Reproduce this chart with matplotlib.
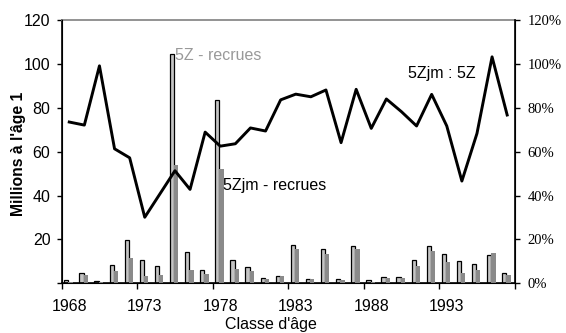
import numpy as np
import matplotlib
matplotlib.use('Agg')
import matplotlib.pyplot as plt
from matplotlib.ticker import FixedLocator, FuncFormatter

# Values
years = list(range(1968, 1998))
recrues_5z = [1.4, 4.9, 0.9, 8.2, 19.6, 10.8, 7.7, 104.5, 14.1, 5.9,
              83.5, 10.6, 7.6, 2.6, 3.2, 17.6, 2.0, 15.5, 2.0, 17.0,
              1.4, 3.0, 3.0, 10.6, 17.0, 13.5, 10.0, 9.0, 13.1, 4.9]
recrues_5zjm = [0.6, 3.8, 0.8, 5.5, 11.4, 3.2, 3.8, 53.9, 6.2, 4.4,
                52.1, 6.7, 5.5, 2.0, 3.2, 15.5, 2.0, 13.5, 1.4, 15.5,
                0.6, 2.6, 2.6, 7.9, 14.9, 9.6, 4.9, 6.1, 13.7, 3.8]
ratio_pct = [73.5, 72.1, 99.1, 61.3, 57.2, 30.1, 40.7, 51.3, 42.8, 68.9,
             62.5, 63.6, 70.8, 69.4, 83.6, 86.2, 85.0, 88.1, 64.1, 88.4,
             70.6, 84.0, 78.2, 71.7, 86.1, 71.7, 46.6, 68.3, 103.2, 76.7]
label_years = [1968, 1973, 1978, 1983, 1988, 1993]

plt.rcParams['font.family'] = ['Liberation Sans', 'DejaVu Sans']
FS = 11.5

fig = plt.figure(figsize=(5.66, 3.33), dpi=100)
ax = fig.add_axes([0.109, 0.1492, 0.8004, 0.7908])

x = np.array(years, dtype=float)
w = 0.28
ax.bar(x - 0.19, recrues_5z, width=w, color='#c4c4c4', edgecolor='black', linewidth=0.9, zorder=2)
ax.bar(x + 0.09, recrues_5zjm, width=w, color='#8a8a8a', linewidth=0, zorder=3)

ax.set_xlim(1967.5, 1997.5)
ax.set_ylim(0, 120)
ax.set_yticks(np.arange(0, 121, 20))
# no "0" on the left axis in the original
ax.yaxis.set_major_formatter(FuncFormatter(lambda v, p: '' if v == 0 else '%d' % v))
ax.tick_params(axis='y', direction='out', length=3.6, width=1, labelsize=FS, pad=4.5)

# labels on category centres, tick marks on category borders
ax.xaxis.set_major_locator(FixedLocator(label_years))
ax.xaxis.set_minor_locator(FixedLocator(np.arange(1967.5, 1998, 5)))
ax.tick_params(axis='x', which='major', length=0, labelsize=FS, pad=11)
ax.tick_params(axis='x', which='minor', direction='out', length=4, width=1)

for s in ['left', 'bottom']:
    ax.spines[s].set_linewidth(1.2)
ax.spines['top'].set_color('#808080')
ax.spines['top'].set_linewidth(1.2)

ax2 = ax.twinx()
ax2.plot(x, ratio_pct, color='black', linewidth=2.1, zorder=5)
ax2.set_ylim(0, 120)
ax2.set_yticks(np.arange(0, 121, 20))
ax2.yaxis.set_major_formatter(FuncFormatter(lambda v, p: '%d%%' % v))
ax2.tick_params(axis='y', direction='out', length=3.6, width=1, pad=5.5)
for lab in ax2.get_yticklabels():
    lab.set_family('Liberation Serif')
    lab.set_fontsize(10.5)
ax2.spines['right'].set_linewidth(1.2)
ax2.spines['top'].set_visible(False)

ax.text(1975.0, 103.7, '5Z - recrues', color='#999999', fontsize=FS, va='center', ha='left')
ax.text(1978.2, 44.8, '5Zjm - recrues', color='black', fontsize=FS, va='center', ha='left')
ax.text(1990.45, 95.4, '5Zjm : 5Z', color='black', fontsize=FS, va='center', ha='left')

fig.text(19 / 566, 1 - 154 / 333, "Millions à l'âge 1", rotation=90, fontweight='bold',
         fontsize=11.3, va='center', ha='center')
fig.text(271 / 566, 1 - 325 / 333, "Classe d'âge", fontsize=FS, va='center', ha='center')

fig.savefig('out.png', dpi=100)
